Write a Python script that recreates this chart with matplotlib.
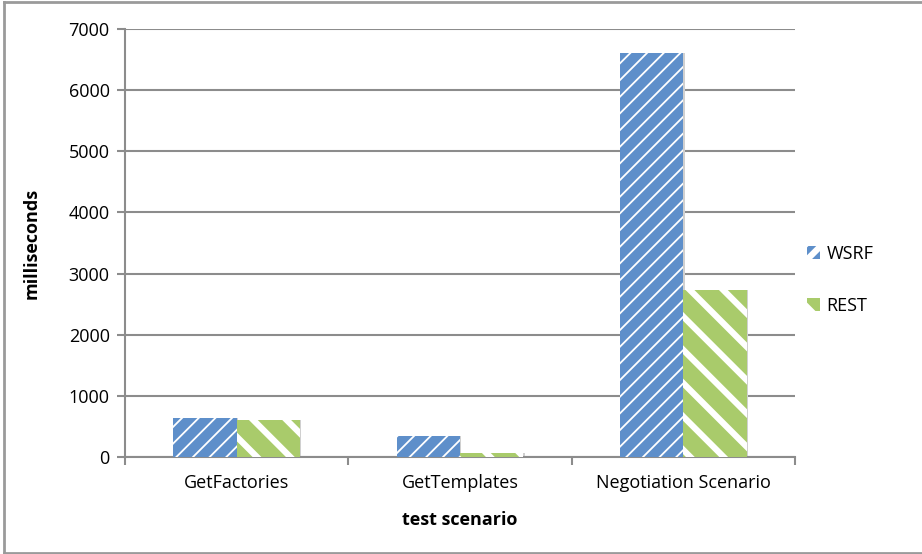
import matplotlib.pyplot as plt
import numpy as np
from matplotlib.lines import Line2D

plt.rcParams["font.family"] = ["Open Sans", "DejaVu Sans"]
plt.rcParams["hatch.color"] = "white"

scenarios = ["GetFactories", "GetTemplates", "Negotiation Scenario"]
wsrf_ms = [640, 340, 6610]
rest_ms = [610, 70, 2730]
y_ticks = [0, 1000, 2000, 3000, 4000, 5000, 6000, 7000]

BLUE = "#5E8FCA"
GREEN = "#A9CB6B"
GRID = "#8C8C8C"
FS = 13

fig = plt.figure(figsize=(9.22, 5.54), dpi=100)
ax = fig.add_axes([125 / 922, 1 - 457 / 554, 670 / 922, 428 / 554])

x = np.arange(len(scenarios))
width = 0.284

plt.rcParams["hatch.linewidth"] = 1.3
wsrf_bars = ax.bar(x - width / 2, wsrf_ms, width, color=BLUE, hatch="//",
                   edgecolor="white", linewidth=0, zorder=3)
plt.rcParams["hatch.linewidth"] = 4.5
rest_bars = ax.bar(x + width / 2, rest_ms, width, color=GREEN, hatch="\\",
                   edgecolor="white", linewidth=0, zorder=3)
for bars, lw in ((wsrf_bars, 1.3), (rest_bars, 4.5)):
    for b in bars:
        if hasattr(b, "set_hatch_linewidth"):
            b.set_hatch_linewidth(lw)
        # faint drop shadow on the right edge
        ax.add_patch(plt.Rectangle((b.get_x() + b.get_width(), 0), 0.006, b.get_height(),
                                   color="#d0d0d0", zorder=2, linewidth=0))

ax.set_xlim(-0.5, 2.5)
ax.set_ylim(0, 7000)
ax.set_yticks(y_ticks)
ax.set_yticklabels([str(v) for v in y_ticks], fontsize=FS)
ax.set_xticks(x)
ax.set_xticklabels(scenarios, fontsize=FS)
ax.tick_params(axis="x", length=0, pad=12)
ax.tick_params(axis="y", length=6, width=1.5, color=GRID, pad=5)
ax.set_xticks([-0.5, 0.5, 1.5, 2.5], minor=True)
ax.tick_params(axis="x", which="minor", length=6, width=1.5, color=GRID)

ax.grid(axis="y", color=GRID, linewidth=1.5, zorder=0)
for side in ("top", "right"):
    ax.spines[side].set_visible(False)
for side in ("left", "bottom"):
    ax.spines[side].set_color(GRID)
    ax.spines[side].set_linewidth(1.5)

ax.set_ylabel("milliseconds", fontsize=FS, fontweight="bold", labelpad=20)
ax.set_xlabel("test scenario", fontsize=FS, fontweight="bold", labelpad=14)

handles = [
    plt.Rectangle((0, 0), 1, 1, facecolor=BLUE, hatch="//", edgecolor="white", linewidth=0),
    plt.Rectangle((0, 0), 1, 1, facecolor=GREEN, hatch="\\", edgecolor="white", linewidth=0),
]
ax.legend(handles, ["WSRF", "REST"], loc="center left", bbox_to_anchor=(1.005, 0.414),
          frameon=False, fontsize=FS, handlelength=0.7, handleheight=0.7,
          handletextpad=0.35, labelspacing=1.9, borderpad=0)

# outer frame around the chart
fig.add_artist(Line2D([4 / 922, 4 / 922], [1 - 553 / 554, 1 - 2 / 554], color="#9a9a9a", lw=2))
fig.add_artist(Line2D([4 / 922, 1.0], [1 - 2 / 554, 1 - 2 / 554], color="#9a9a9a", lw=2))
fig.add_artist(Line2D([4 / 922, 1.0], [1 - 553 / 554, 1 - 553 / 554], color="#9a9a9a", lw=2))

fig.savefig("out.png", dpi=100)
